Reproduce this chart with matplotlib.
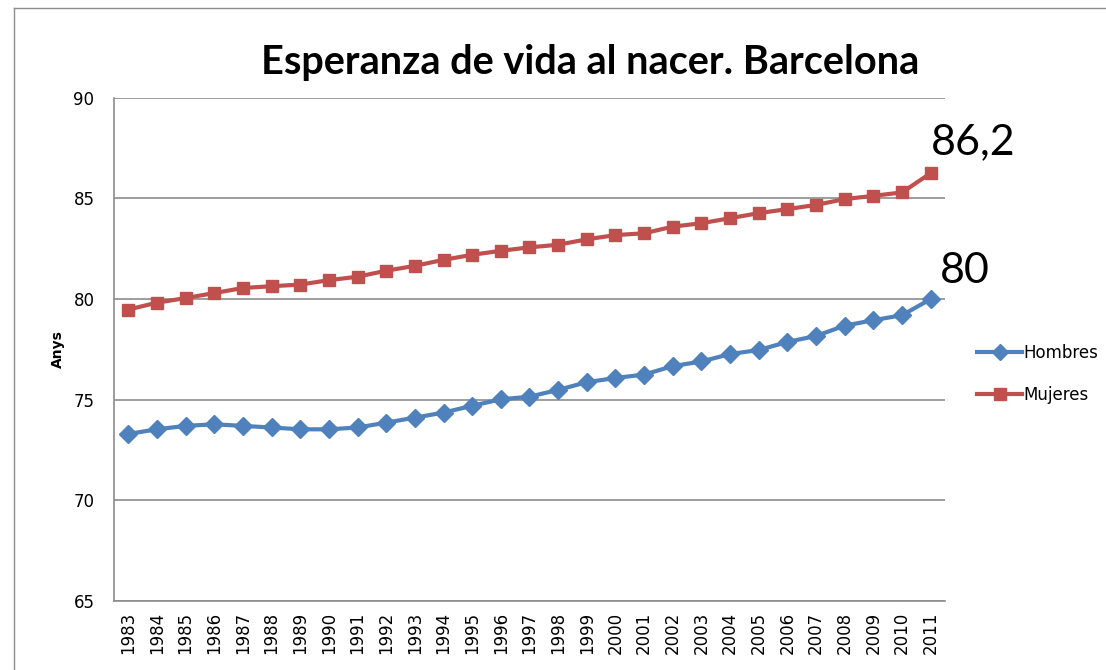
import numpy as np
import matplotlib
matplotlib.use('Agg')
import matplotlib.pyplot as plt
from matplotlib.lines import Line2D

# datos
years = list(range(1983, 2012))
hombres = [73.3, 73.53, 73.7, 73.78, 73.7, 73.62, 73.53, 73.53, 73.62, 73.86,
           74.11, 74.36, 74.7, 75.02, 75.15, 75.49, 75.87, 76.08, 76.25, 76.67,
           76.9, 77.27, 77.47, 77.87, 78.17, 78.68, 78.95, 79.2, 80.0]
mujeres = [79.48, 79.82, 80.05, 80.3, 80.55, 80.64, 80.72, 80.94, 81.11, 81.41,
           81.65, 81.95, 82.2, 82.4, 82.57, 82.7, 82.97, 83.18, 83.27, 83.6,
           83.77, 84.02, 84.27, 84.47, 84.68, 84.97, 85.13, 85.3, 86.26]
last_labels = ['80', '86,2']
y_ticks = [65, 70, 75, 80, 85, 90]

blue = '#4F81BD'
red = '#C0504D'
grid_col = '#8C8C8C'

plt.rcParams['font.family'] = 'DejaVu Sans'

fig = plt.figure(figsize=(11.06, 6.70), dpi=100)
ax = fig.add_axes([0.1030, 0.103, 0.7515, 0.7510])

x = np.arange(len(years))
ax.plot(x, hombres, color=blue, lw=3, marker='D', ms=9, label='Hombres')
ax.plot(x, mujeres, color=red, lw=3, marker='s', ms=9, label='Mujeres')

ax.set_xlim(-0.5, len(years) - 0.5)
ax.set_ylim(65, 90)
ax.set_yticks(y_ticks)
ax.set_xticks(x)
ax.set_xticklabels([str(y) for y in years], rotation=90, fontsize=12)
ax.tick_params(axis='y', length=0, pad=14, labelsize=12)
ax.tick_params(axis='x', length=0, pad=8)
ax.yaxis.grid(True, color=grid_col, lw=1.2)
ax.set_axisbelow(True)
for s in ['top', 'right']:
    ax.spines[s].set_visible(False)
for s in ['left', 'bottom']:
    ax.spines[s].set_color(grid_col)
    ax.spines[s].set_linewidth(1.2)

ax.set_ylabel('Anys', fontsize=10, fontweight='bold', labelpad=6)

# etiquetas del ultimo valor
ax.annotate(last_labels[0], xy=(x[-1], hombres[-1]), xytext=(9, 28),
            textcoords='offset pixels', ha='left', va='center',
            fontsize=31, family='Lato')
ax.annotate(last_labels[1], xy=(x[-1], mujeres[-1]), xytext=(0, 31),
            textcoords='offset pixels', ha='left', va='center',
            fontsize=31, family='Lato')

fig.text(0.5335, 0.906, 'Esperanza de vida al nacer. Barcelona',
         ha='center', va='center', fontsize=28.5, fontweight='bold', family='Lato')

fig.legend(loc='center left', bbox_to_anchor=(0.8835, 0.4415), frameon=False,
           fontsize=12, handlelength=2.7, handletextpad=0.1, labelspacing=1.45,
           borderpad=0, borderaxespad=0, markerscale=0.9)

# marco exterior
fig.add_artist(Line2D([14 / 1106, 14 / 1106], [0, 1 - 8 / 670],
                      transform=fig.transFigure, color=grid_col, lw=1))
fig.add_artist(Line2D([14 / 1106, 1], [1 - 8 / 670, 1 - 8 / 670],
                      transform=fig.transFigure, color=grid_col, lw=1))

fig.savefig('out.png', dpi=100)
